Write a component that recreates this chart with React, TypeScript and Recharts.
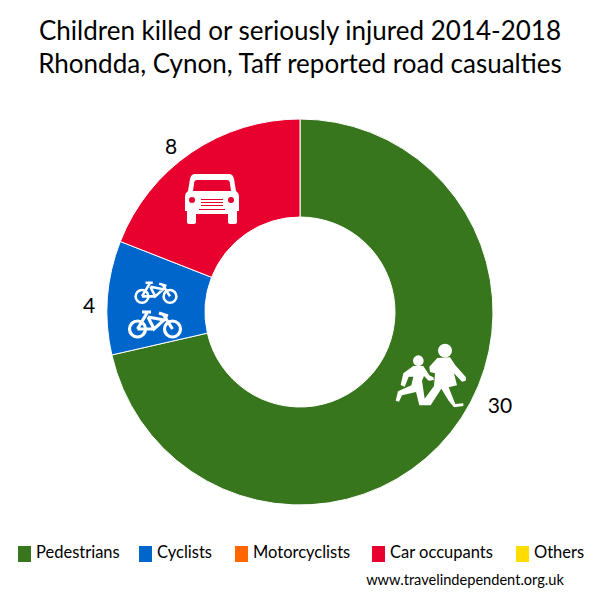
import { PieChart, Pie, Legend } from "recharts";

const categories = ["Pedestrians", "Cyclists", "Motorcyclists", "Car occupants", "Others"];
const casualties = [30, 4, 0, 8, 0];
const colors = ["#38761D", "#0066CC", "#FF6600", "#E8002F", "#FFDD00"];
const titleLines = [
  "Children killed or seriously injured 2014-2018",
  "Rhondda, Cynon, Taff reported road casualties",
];
const credit = "www.travelindependent.org.uk";

const FONT = "Lato, sans-serif";

// hand placed, the original does not centre these on the slices
const labelOffsets = [
  [200, 92],
  [-211, -8],
  null,
  [-129, -167],
  null,
];
const iconOffsets = [
  [130, 63],
  [-145, -5],
  null,
  [-88, -113],
  null,
];
const legendX = [18, 139, 235, 372, 516];

const data = categories.map((name, i) => ({ name, value: casualties[i], fill: colors[i] }));

function Car({ fill }: { fill: string }) {
  return (
    <g>
      <path
        fill="#fff"
        d="M-17,-25 H17 Q21,-25 22,-20 L24,-8 Q27,-6 27,-2 V12 H25 V23 Q25,25 22,25 H19 Q16,25 16,23 V15 H-16 V23 Q-16,25 -19,25 H-22 Q-25,25 -25,23 V12 H-27 V-2 Q-27,-6 -24,-8 L-22,-20 Q-21,-25 -17,-25 Z"
      />
      <path fill={fill} d="M-15,-19 H15 Q18,-19 18,-15 L19,-8 H-19 L-18,-15 Q-18,-19 -15,-19 Z" />
      <circle cx={-20} cy={1} r={3} fill={fill} />
      <circle cx={19} cy={1} r={3} fill={fill} />
      <path fill={fill} d="M-11,0 H11 V1 H-11 Z M-11,3 H11 V4 H-11 Z M-11,6 H11 V7 H-11 Z M-13,10 H13 V11 H-13 Z" />
    </g>
  );
}

function Bike({ x, y, scale }: { x: number; y: number; scale: number }) {
  return (
    <g transform={`translate(${x},${y}) scale(${scale})`} fill="none" stroke="#fff" strokeWidth={3.2}>
      <circle cx={-17.5} cy={8} r={8} />
      <circle cx={17.5} cy={8} r={8} />
      <path d="M-17.5,8 L-8,-8 M-13,-9 H-4 M-7,-4 L9,-1 L-1,8 L-7,-4 M-1,8 L-17.5,8 M17.5,8 L8,-7 M4,-8 L13,-5" />
    </g>
  );
}

function Bikes() {
  return (
    <g>
      <Bike x={1} y={-17} scale={0.8} />
      <Bike x={0} y={14} scale={1} />
    </g>
  );
}

function Children() {
  return (
    <g transform="scale(0.3333) translate(-150,-135)" fill="#fff">
      <circle cx={195} cy={62} r={21} />
      <circle cx={115} cy={92} r={16} />
      <path d="M172,84 L210,82 L226,106 L258,142 L257,152 L246,155 L222,130 L231,166 L206,172 L226,222 L250,220 L250,228 L222,232 L206,212 L184,176 L152,226 L118,226 L108,186 L66,196 L57,215 L47,212 L54,184 L94,166 L100,140 L86,140 L74,170 L62,165 L70,130 L100,108 L130,108 L148,136 L160,142 L162,150 L146,152 L132,138 L126,152 L134,206 L162,168 L165,130 L150,126 L148,110 Z" />
    </g>
  );
}

function SliceLabel(props: any) {
  const { cx, cy, index, value, fill } = props;
  const lab = labelOffsets[index];
  const ic = iconOffsets[index];
  if (!lab || !ic) return null;
  return (
    <g>
      <g transform={`translate(${cx + ic[0]},${cy + ic[1]})`}>
        {index === 0 && <Children />}
        {index === 1 && <Bikes />}
        {index === 3 && <Car fill={fill} />}
      </g>
      <text
        x={cx + lab[0]}
        y={cy + lab[1]}
        textAnchor="middle"
        dominantBaseline="central"
        fontFamily={FONT}
        fontSize={21}
        fill="#000"
      >
        {value}
      </text>
    </g>
  );
}

function LegendRow({ payload }: any) {
  return (
    <div style={{ position: "relative", height: 30, fontFamily: FONT, fontSize: 16.5, color: "#000" }}>
      {(payload || []).map((p: any, i: number) => (
        <div key={p.value} style={{ position: "absolute", left: legendX[i], top: 0, whiteSpace: "nowrap" }}>
          <span
            style={{ position: "absolute", left: 0, top: 5, width: 13, height: 16, background: colors[i] }}
          />
          <span style={{ position: "absolute", left: 18, top: 0, lineHeight: "22px" }}>{p.value}</span>
        </div>
      ))}
    </div>
  );
}

export default function App() {
  return (
    <div style={{ position: "absolute", left: 0, top: 0, width: 600, height: 600, background: "#fff" }}>
      <PieChart width={600} height={600} margin={{ top: 0, right: 0, bottom: 0, left: 0 }}>
        <text x={300} y={40} textAnchor="middle" fontFamily={FONT} fontSize={26} fill="#000">
          {titleLines[0]}
        </text>
        <text x={300} y={73} textAnchor="middle" fontFamily={FONT} fontSize={26} fill="#000">
          {titleLines[1]}
        </text>
        <Pie
          data={data}
          dataKey="value"
          nameKey="name"
          cx={300}
          cy={312}
          outerRadius={193}
          innerRadius={95}
          startAngle={90}
          endAngle={-270}
          stroke="#fff"
          strokeWidth={1}
          label={SliceLabel}
          labelLine={false}
          isAnimationActive={false}
        />
        <Legend
          content={<LegendRow />}
          itemSorter={null}
          layout="vertical"
          align="right"
          verticalAlign="middle"
          wrapperStyle={{ left: 0, right: "auto", top: 541, width: 600 }}
        />
        <text x={465} y={585} textAnchor="middle" fontFamily={FONT} fontSize={14.6} fill="#000">
          {credit}
        </text>
      </PieChart>
    </div>
  );
}
